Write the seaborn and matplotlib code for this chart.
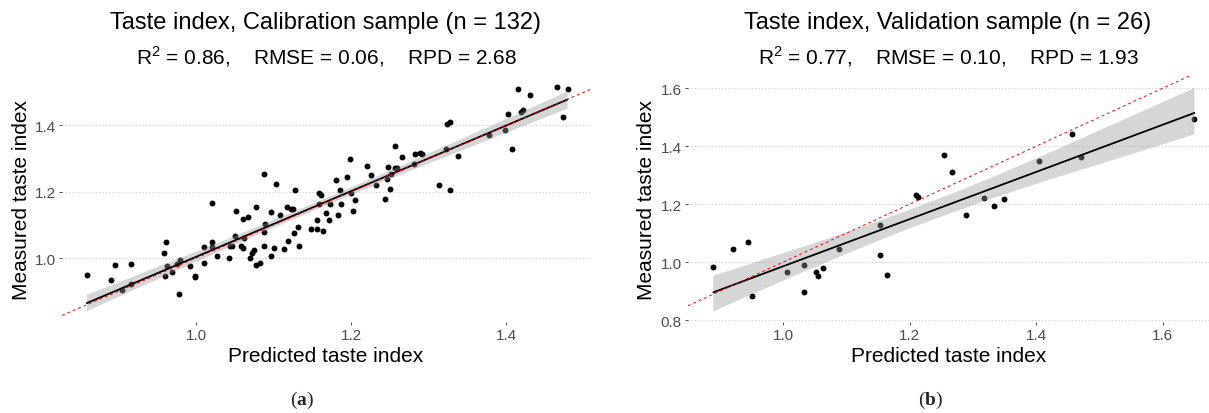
import numpy as np
import pandas as pd
import matplotlib
matplotlib.use("Agg")
import matplotlib.pyplot as plt
from matplotlib.collections import PolyCollection
import seaborn as sns

# ---------------- data ----------------
cal_predicted = [
    0.859, 0.890, 0.895, 0.905, 0.916, 0.916,
    0.958, 0.961, 0.960, 0.963, 0.969, 0.975, 0.979, 0.978, 0.992, 0.998,
    0.999, 1.010, 1.010, 1.020, 1.020, 1.020, 1.027, 1.043, 1.044, 1.046,
    1.050, 1.052, 1.058, 1.060, 1.060, 1.067, 1.062, 1.070, 1.072, 1.074,
    1.077, 1.077, 1.082, 1.088, 1.088, 1.089, 1.088, 1.097, 1.097, 1.101,
    1.103, 1.108, 1.113, 1.118, 1.117, 1.123, 1.125, 1.126, 1.128, 1.131,
    1.133, 1.148, 1.156, 1.156, 1.158, 1.159, 1.161, 1.163, 1.167, 1.172,
    1.173, 1.181, 1.183, 1.186, 1.187, 1.195, 1.199, 1.200, 1.202, 1.205,
    1.220, 1.225, 1.232, 1.243, 1.246, 1.247, 1.250, 1.251, 1.257, 1.259,
    1.265, 1.257,
    1.281, 1.282, 1.289, 1.291, 1.313, 1.322, 1.324, 1.327, 1.327, 1.338,
    1.378, 1.399, 1.402, 1.408, 1.415, 1.419, 1.421, 1.430, 1.465, 1.473,
    1.479,
]
cal_measured = [
    0.948, 0.933, 0.978, 0.905, 0.983, 0.923,
    1.015, 1.047, 0.947, 0.975, 0.959, 0.982, 0.994, 0.890, 0.975, 0.947,
    0.942, 0.984, 1.034, 1.167, 1.047, 1.032, 1.005, 0.999, 1.037, 1.035,
    1.065, 1.142, 1.037, 1.030, 1.119, 1.124, 1.059, 1.000, 1.015, 1.024,
    1.155, 0.980, 0.984, 1.037, 1.077, 1.102, 1.252, 1.005, 1.139, 1.030,
    1.222, 1.130, 1.027, 1.052, 1.154, 1.149, 1.147, 1.074, 1.205, 1.095,
    1.035, 1.089, 1.087, 1.115, 1.164, 1.197, 1.189, 1.080, 1.137, 1.115,
    1.164, 1.234, 1.129, 1.205, 1.162, 1.243, 1.300, 1.197, 1.141, 1.175,
    1.277, 1.249, 1.219, 1.177, 1.237, 1.275, 1.209, 1.252, 1.270, 1.270,
    1.305, 1.338,
    1.284, 1.313, 1.317, 1.313, 1.221, 1.330, 1.403, 1.410, 1.204, 1.307,
    1.372, 1.387, 1.435, 1.330, 1.511, 1.440, 1.447, 1.492, 1.516, 1.425,
    1.509,
]

val_predicted = [
    0.890, 0.921, 0.945, 0.951, 1.007, 1.033, 1.033, 1.052, 1.055, 1.064,
    1.088, 1.153, 1.154, 1.164, 1.210, 1.214, 1.254, 1.267, 1.289, 1.317,
    1.333, 1.349, 1.404, 1.457, 1.471, 1.650,
]
val_measured = [
    0.983, 1.046, 1.071, 0.883, 0.966, 0.989, 0.897, 0.968, 0.954, 0.979,
    1.045, 1.130, 1.026, 0.957, 1.232, 1.226, 1.368, 1.310, 1.163, 1.222,
    1.195, 1.217, 1.349, 1.441, 1.364, 1.495,
]

titles = ["Taste index, Calibration sample (n = 132)",
          "Taste index, Validation sample (n = 26)"]
subtitles = [r"R$^{\mathsf{2}}$ = 0.86,    RMSE = 0.06,    RPD = 2.68",
             r"R$^{\mathsf{2}}$ = 0.77,    RMSE = 0.10,    RPD = 1.93"]
panel_tags = ["a", "b"]
x_label = "Predicted taste index"
y_label = "Measured taste index"
cal_yticks = [1.0, 1.2, 1.4]
cal_xticks = [1.0, 1.2, 1.4]
val_yticks = [0.8, 1.0, 1.2, 1.4, 1.6]
val_xticks = [1.0, 1.2, 1.4, 1.6]

# ---------------- style ----------------
sns.set_style("white")
plt.rcParams["font.family"] = ["Liberation Sans", "DejaVu Sans"]
plt.rcParams["mathtext.fontset"] = "custom"
plt.rcParams["mathtext.rm"] = "Liberation Serif"
plt.rcParams["mathtext.bf"] = "Liberation Serif:bold"
plt.rcParams["mathtext.sf"] = "Liberation Sans"

W, H = 1209, 414
fig = plt.figure(figsize=(W / 100, H / 100), dpi=100)


def px_axes(x0, x1, y0, y1):
    return fig.add_axes([x0 / W, 1 - y1 / H, (x1 - x0) / W, (y1 - y0) / H])


ax1 = px_axes(62, 590, 77, 323)
ax2 = px_axes(688, 1209, 77, 323)

cal_df = pd.DataFrame({"pred": cal_predicted, "meas": cal_measured})
val_df = pd.DataFrame({"pred": val_predicted, "meas": val_measured})

specs = [
    (ax1, cal_df, (0.827, 1.508), (0.807, 1.549), cal_xticks, cal_yticks, 326, 302),
    (ax2, val_df, (0.850, 1.673), (0.794, 1.642), val_xticks, val_yticks, 948, 931),
]

for i, (ax, df, xl, yl, xt, yt, cx, tagx) in enumerate(specs):
    sns.regplot(data=df, x="pred", y="meas", ax=ax, color="black", ci=95,
                n_boot=2000, seed=3, truncate=True,
                scatter_kws=dict(s=18, linewidths=0, alpha=1),
                line_kws=dict(lw=1.3))
    for coll in ax.collections:
        if isinstance(coll, PolyCollection):
            coll.set_facecolor("#999999")
            coll.set_alpha(0.4)
            coll.set_edgecolor("none")
    ax.axline((1.0, 1.0), slope=1, color="red", lw=0.7,
              ls=(0, (3, 3)), zorder=5)
    ax.set_xlim(*xl)
    ax.set_ylim(*yl)
    ax.set_xticks(xt)
    ax.set_yticks(yt)
    ax.set_xticklabels([f"{v:.1f}" for v in xt])
    ax.set_yticklabels([f"{v:.1f}" for v in yt])
    ax.tick_params(axis="both", which="major", length=2.5, width=0.6,
                   color="#333333", labelsize=11, labelcolor="#4D4D4D",
                   direction="out", pad=2, bottom=True, left=True)
    ax.grid(False)
    ax.grid(axis="y", ls=(0, (1, 2)), color="#C8C8C8", lw=0.8)
    ax.set_axisbelow(True)
    for s in ax.spines.values():
        s.set_visible(False)
    ax.set_xlabel(x_label, fontsize=15, color="black")
    ax.set_ylabel(y_label, fontsize=15, color="black")
    ax.xaxis.label.set_va("center")
    ax.yaxis.label.set_va("center")
    pos = ax.get_position()
    ax.xaxis.set_label_coords(0.5, (323 - 357) / 246)
    ylab_x = 22 if i == 0 else 647
    x0 = 62 if i == 0 else 688
    ax.yaxis.set_label_coords((ylab_x - x0) / (pos.width * W), 0.5)

    fig.text(cx / W, 1 - 23 / H, titles[i], ha="center", va="center",
             fontsize=17, color="black")
    fig.text(cx / W, 1 - 57 / H, subtitles[i], ha="center", va="center",
             fontsize=15, color="black")
    fig.text(tagx / W, 1 - 400 / H, r"($\mathbf{" + panel_tags[i] + r"}$)",
             ha="center", va="center", fontsize=14,
             family=["Liberation Serif", "DejaVu Serif"])

fig.savefig("out.png", dpi=100, facecolor="white")
